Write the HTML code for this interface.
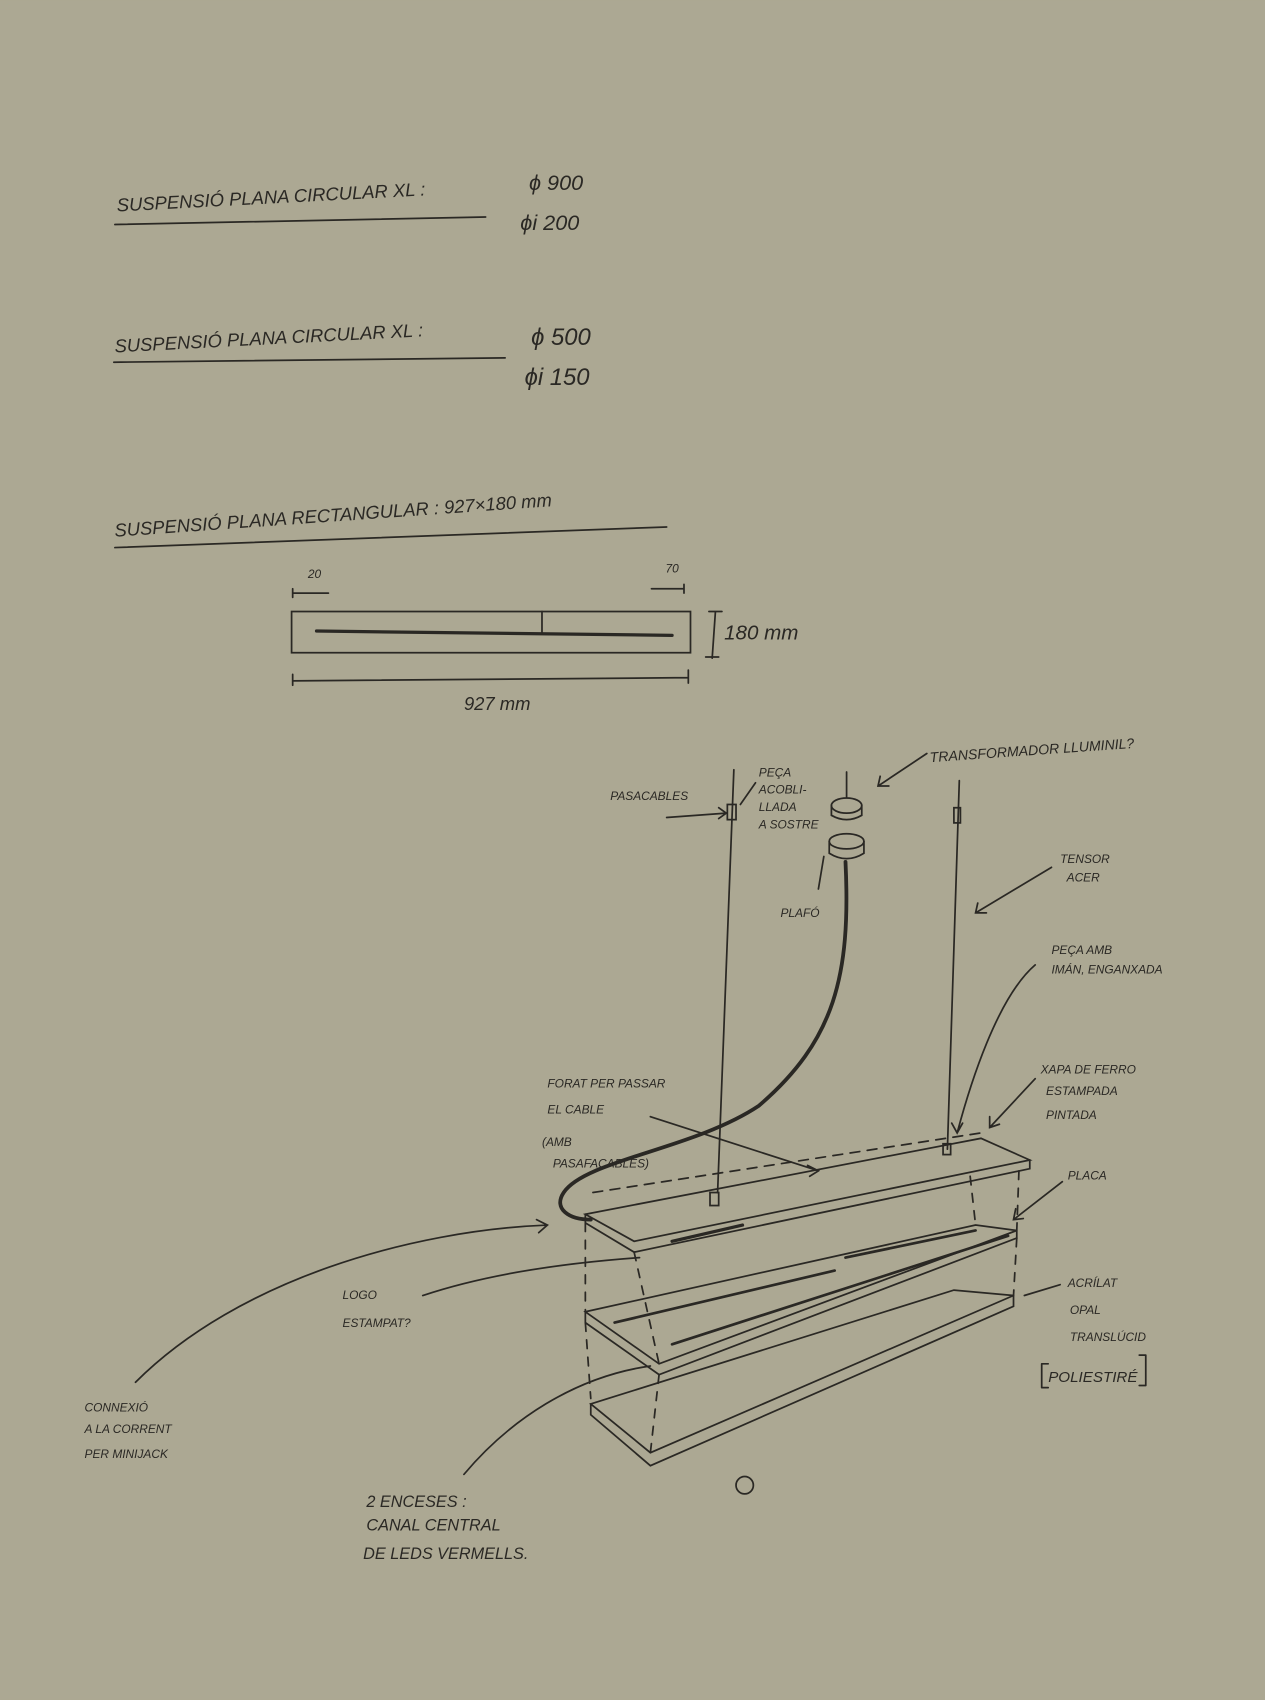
<!DOCTYPE html>
<html><head><meta charset="utf-8"><style>
html,body{margin:0;padding:0;background:#aca893;}
svg{display:block}
text{font-family:"Liberation Sans",sans-serif;fill:#2a2824;font-style:italic}
</style></head><body>
<svg width="1265" height="1700" viewBox="0 0 1167 1568" xmlns="http://www.w3.org/2000/svg">
<rect width="1167" height="1568" fill="#aca893"/>
<g stroke="#2a2824" fill="none" stroke-width="1.6" stroke-linecap="round">
<!-- underlines -->
<path d="M106 207 L448 200"/>
<path d="M105 334 L466 330"/>
<path d="M106 505 L615 486"/>
<!-- rectangle plan -->
<rect x="269" y="564" width="368" height="38"/>
<path d="M292 582 L620 586" stroke-width="3"/>
<path d="M500 564 L500 583"/>
<path d="M270 547 L303 547 M270 543 L270 551 M601 543 L631 543 M631 539 L631 547"/>
<path d="M660 564 L657 607 M654 564 L666 564 M651 606 L663 606"/>
<path d="M270 628 L635 625 M270 622 L270 632 M635 618 L635 630"/>
<!-- suspension wires -->
<path d="M677 710 L662 1100"/>
<path d="M885 720 L874 1060"/>
<rect x="671" y="742" width="8" height="14"/>
<rect x="880" y="745" width="6" height="14"/>
<path d="M781 712 L781 735"/>
<ellipse cx="781" cy="743" rx="14" ry="7"/>
<path d="M767 743 L767 752 Q781 760 795 752 L795 743"/>
<ellipse cx="781" cy="776" rx="16" ry="7"/>
<path d="M765 776 L765 787 Q781 797 797 787 L797 776"/>
<!-- cable -->
<path d="M780 795 C785 900 770 960 700 1020 C640 1060 540 1070 520 1100 C510 1115 525 1125 545 1125" stroke-width="3.5"/>
<!-- top plate -->
<path d="M540 1120 L905 1050 L950 1070 L585 1145 Z"/>
<path d="M540 1120 L540 1128 L585 1155 L950 1078 L950 1070"/>
<path d="M547 1100 L905 1045" stroke-dasharray="9 7"/>
<rect x="655" y="1100" width="8" height="12"/>
<rect x="870" y="1055" width="7" height="10"/>
<path d="M620 1145 L685 1130" stroke-width="3"/>
<!-- middle plate -->
<path d="M540 1210 L900 1130 L938 1135 L608 1258 Z"/>
<path d="M540 1210 L540 1220 L608 1268 L938 1142 L938 1135"/>
<path d="M567 1220 L770 1172 M620 1240 L930 1140 M780 1160 L900 1135" stroke-width="2.5"/>
<!-- bottom plate -->
<path d="M545 1295 L880 1190 L935 1195 L600 1340 Z"/>
<path d="M545 1295 L545 1305 L600 1352 L935 1205 L935 1195"/>
<!-- dashed verticals -->
<path d="M540 1128 L540 1210 M540 1220 L545 1290 M585 1155 L608 1258 M608 1268 L600 1340 M895 1085 L900 1130 M940 1080 L938 1135 M938 1142 L935 1195" stroke-dasharray="8 8"/>
<!-- leader lines -->
<path d="M615 754 L670 750 M663 745 L670 750 L663 755"/>
<path d="M697 722 L683 742"/>
<path d="M855 695 L810 725 M812 716 L810 725 L820 725"/>
<path d="M755 820 L760 790"/>
<path d="M970 800 L900 842 M902 833 L900 842 L910 842"/>
<path d="M955 890 C920 920 895 1000 883 1045 M878 1036 L883 1045 L888 1036"/>
<path d="M955 995 L913 1040 M913 1030 L913 1040 L922 1037"/>
<path d="M600 1030 L755 1080 M745 1075 L755 1080 L747 1085"/>
<path d="M980 1090 L935 1125 M937 1115 L935 1125 L944 1124"/>
<path d="M978 1185 L945 1195"/>
<path d="M390 1195 C450 1175 520 1165 590 1160"/>
<path d="M125 1275 C220 1180 380 1135 505 1130 M495 1125 L505 1130 L497 1137"/>
<path d="M428 1360 C470 1310 530 1270 600 1260"/>
<circle cx="687" cy="1370" r="8"/>
<path d="M961 1258 L961 1280 M961 1258 L967 1258 M961 1280 L967 1280 M1057 1250 L1057 1278 M1057 1250 L1051 1250 M1057 1278 L1051 1278"/>
</g>
<g font-size="17">
<text x="108" y="195" transform="rotate(-3 108 195)">SUSPENSIÓ  PLANA  CIRCULAR XL  :</text>
<text x="488" y="175" font-size="20">ϕ 900</text>
<text x="480" y="212" font-size="20">ϕi 200</text>
<text x="106" y="325" transform="rotate(-3 106 325)">SUSPENSIÓ  PLANA  CIRCULAR  XL  :</text>
<text x="490" y="318" font-size="22">ϕ 500</text>
<text x="484" y="355" font-size="22">ϕi 150</text>
<text x="106" y="495" transform="rotate(-4 106 495)">SUSPENSIÓ  PLANA  RECTANGULAR :  927×180 mm</text>
<text x="284" y="533" font-size="11">20</text>
<text x="614" y="528" font-size="11">70</text>
<text x="668" y="590" font-size="19">180 mm</text>
<text x="428" y="655" font-size="17">927 mm</text>
<text x="858" y="703" font-size="13" transform="rotate(-4 858 703)">TRANSFORMADOR  LLUMINIL?</text>
<g font-size="11">
<text x="563" y="738">PASACABLES</text>
<text x="700" y="716">PEÇA</text><text x="700" y="732">ACOBLI-</text><text x="700" y="748">LLADA</text><text x="700" y="764">A SOSTRE</text>
<text x="720" y="846">PLAFÓ</text>
<text x="978" y="796">TENSOR</text><text x="984" y="813">ACER</text>
<text x="970" y="880">PEÇA AMB</text><text x="970" y="898">IMÁN, ENGANXADA</text>
<text x="960" y="990">XAPA DE FERRO</text><text x="965" y="1010">ESTAMPADA</text><text x="965" y="1032">PINTADA</text>
<text x="505" y="1003">FORAT PER PASSAR</text><text x="505" y="1027">EL CABLE</text>
<text x="500" y="1057">(AMB</text><text x="510" y="1077">PASAFACABLES)</text>
<text x="985" y="1088">PLACA</text>
<text x="985" y="1187">ACRÍLAT</text><text x="987" y="1212">OPAL</text><text x="987" y="1237">TRANSLÚCID</text>
<text x="967" y="1275" font-size="14">POLIESTIRÉ</text>
<text x="316" y="1198">LOGO</text><text x="316" y="1224">ESTAMPAT?</text>
<text x="78" y="1302">CONNEXIÓ</text><text x="78" y="1322">A LA CORRENT</text><text x="78" y="1345">PER MINIJACK</text>
</g>
<g font-size="15">
<text x="338" y="1390">2 ENCESES :</text>
<text x="338" y="1412">CANAL CENTRAL</text>
<text x="335" y="1438">DE  LEDS  VERMELLS.</text>
</g>
</g>
</svg>
</body></html>
